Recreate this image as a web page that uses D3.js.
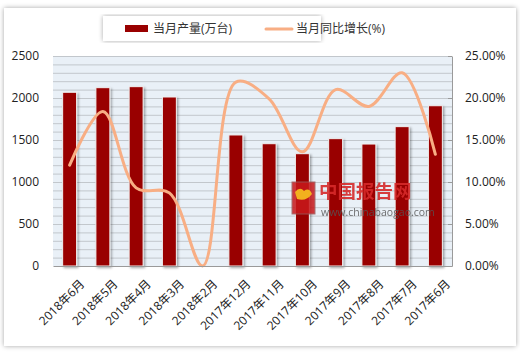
<!DOCTYPE html>
<html>
<head>
<meta charset="utf-8">
<script src="https://cdn.jsdelivr.net/npm/d3@7"></script>
<style>
  body { margin: 0; background: #fff; }
  svg text { font-family: "Open Sans", "Noto Sans CJK SC", sans-serif; }
</style>
</head>
<body>
<div id="chart"></div>
<script>
// data
const months = ["2018年6月", "2018年5月", "2018年4月", "2018年3月", "2018年2月", "2017年12月",
  "2017年11月", "2017年10月", "2017年9月", "2017年8月", "2017年7月", "2017年6月"];
const output = [2068, 2123, 2135, 2012, 0, 1560, 1456, 1337, 1516, 1452, 1659, 1908];
const growth = [12.0, 18.4, 9.3, 8.7, 0.0, 21.9, 19.9, 13.6, 21.0, 19.0, 23.0, 13.3];
const leftTicks = [0, 500, 1000, 1500, 2000, 2500];
const rightTicks = [0, 5, 10, 15, 20, 25];

const width = 520, height = 354;
const margin = {top: 56, right: 68, bottom: 88, left: 53};
const innerW = width - margin.left - margin.right,
    innerH = height - margin.top - margin.bottom;

const svg = d3.select("#chart")
  .append("svg")
    .attr("width", width)
    .attr("height", height);

const defs = svg.append("defs");
const sh = defs.append("filter").attr("id", "shadow")
    .attr("x", "-20%").attr("y", "-20%").attr("width", "150%").attr("height", "150%");
sh.append("feDropShadow").attr("dx", 1.5).attr("dy", 1.5).attr("stdDeviation", 1.2)
    .attr("flood-color", "#000").attr("flood-opacity", 0.35);
const frameSh = defs.append("filter").attr("id", "frameShadow")
    .attr("x", "-5%").attr("y", "-5%").attr("width", "110%").attr("height", "110%");
frameSh.append("feDropShadow").attr("dx", 0).attr("dy", 0).attr("stdDeviation", 2.5)
    .attr("flood-color", "#000").attr("flood-opacity", 0.35);

// outer frame
svg.append("rect")
    .attr("x", 4).attr("y", 8).attr("width", 512).attr("height", 338)
    .attr("fill", "#fff")
    .attr("filter", "url(#frameShadow)");

const g = svg.append("g")
    .attr("transform", `translate(${margin.left},${margin.top})`);

const x = d3.scaleBand()
    .domain(months)
    .range([0, innerW])
    .paddingInner(0.58)
    .paddingOuter(0.29);

const y = d3.scaleLinear().domain([0, 2500]).range([innerH, 0]);
const y2 = d3.scaleLinear().domain([0, 25]).range([innerH, 0]);

// plot background + minor grid every 100
g.append("rect")
    .attr("width", innerW).attr("height", innerH)
    .attr("fill", "#e9f0f7");

g.append("g")
  .selectAll("line")
  .data(d3.range(100, 2600, 100))
  .join("line")
    .attr("x1", 0).attr("x2", innerW)
    .attr("y1", d => y(d) + 0.5).attr("y2", d => y(d) + 0.5)
    .attr("stroke", "#c2c7cc")
    .attr("stroke-width", 1);

// bars
g.append("g")
  .selectAll("rect")
  .data(output)
  .join("rect")
    .attr("x", (d, i) => x(months[i]))
    .attr("y", d => y(d))
    .attr("width", x.bandwidth())
    .attr("height", d => innerH - y(d))
    .attr("fill", "#990000")
    .attr("stroke", d => d > 0 ? "#f2f2f2" : "none")
    .attr("stroke-width", 1)
    .attr("filter", "url(#shadow)");

// watermark
const wm = g.append("g").attr("transform", "translate(239,126)");
wm.append("rect")
    .attr("width", 23).attr("height", 32)
    .attr("fill", "#c8191c").attr("stroke", "#9a5a5a").attr("opacity", 0.85);
wm.append("path")
    .attr("d", "M3,10 Q8,4 12,9 Q17,5 20,12 Q14,20 5,17 Z")
    .attr("fill", "#f2b01e");
wm.append("text")
    .attr("x", 27).attr("y", 16)
    .attr("font-size", 18.5).attr("font-weight", "bold")
    .attr("font-family", "Noto Sans CJK SC")
    .attr("fill", "#d62a2a").attr("opacity", 0.9)
    .text("中国报告网");
wm.append("text")
    .attr("x", 29).attr("y", 34)
    .attr("font-size", 10.5)
    .attr("fill", "#555").attr("opacity", 0.85)
    .text("www.chinabaogao.com");

// line
const line = d3.line()
    .x((d, i) => x(months[i]) + x.bandwidth() / 2)
    .y(d => y2(d))
    .curve(d3.curveCatmullRom.alpha(0.5));

g.append("path")
    .datum(growth)
    .attr("fill", "none")
    .attr("stroke", "#f8ae84")
    .attr("stroke-width", 3)
    .attr("stroke-linecap", "round")
    .attr("d", line);

// axes
const xAxis = g.append("g")
    .attr("transform", `translate(0,${innerH})`)
    .call(d3.axisBottom(x).tickSize(0).tickPadding(8));
xAxis.select(".domain").attr("stroke", "#9a9a9a");
xAxis.selectAll("text")
    .attr("font-size", 12)
    .attr("fill", "#222")
    .attr("text-anchor", "end")
    .attr("transform", "translate(4,7) rotate(-45)");

const yAxis = g.append("g")
    .call(d3.axisLeft(y).tickValues(leftTicks).tickSize(0).tickPadding(14)
      .tickFormat(d3.format("d")));
yAxis.select(".domain").remove();
yAxis.selectAll("text").attr("font-size", 12).attr("fill", "#222");

const yAxis2 = g.append("g")
    .attr("transform", `translate(${innerW},0)`)
    .call(d3.axisRight(y2).tickValues(rightTicks).tickSizeInner(-4).tickSizeOuter(0)
      .tickPadding(13).tickFormat(d => d.toFixed(2) + "%"));
yAxis2.select(".domain").attr("stroke", "#9a9a9a");
yAxis2.selectAll(".tick line").attr("stroke", "#9a9a9a");
yAxis2.selectAll("text").attr("font-size", 12).attr("fill", "#222");

// legend
const legend = svg.append("g").attr("transform", "translate(103,16)");
legend.append("rect")
    .attr("width", 218).attr("height", 25)
    .attr("fill", "#fff")
    .attr("filter", "url(#frameShadow)")
    .attr("opacity", 0.95);
legend.append("rect")
    .attr("x", 22).attr("y", 9).attr("width", 23).attr("height", 7)
    .attr("fill", "#990000");
legend.append("text")
    .attr("x", 50).attr("y", 17)
    .attr("font-size", 12).attr("fill", "#333")
    .text("当月产量(万台)");
legend.append("line")
    .attr("x1", 163).attr("x2", 189).attr("y1", 13).attr("y2", 13)
    .attr("stroke", "#f8ae84").attr("stroke-width", 3).attr("stroke-linecap", "round");
legend.append("text")
    .attr("x", 193).attr("y", 17)
    .attr("font-size", 12).attr("fill", "#333")
    .text("当月同比增长(%)");
</script>
</body>
</html>
